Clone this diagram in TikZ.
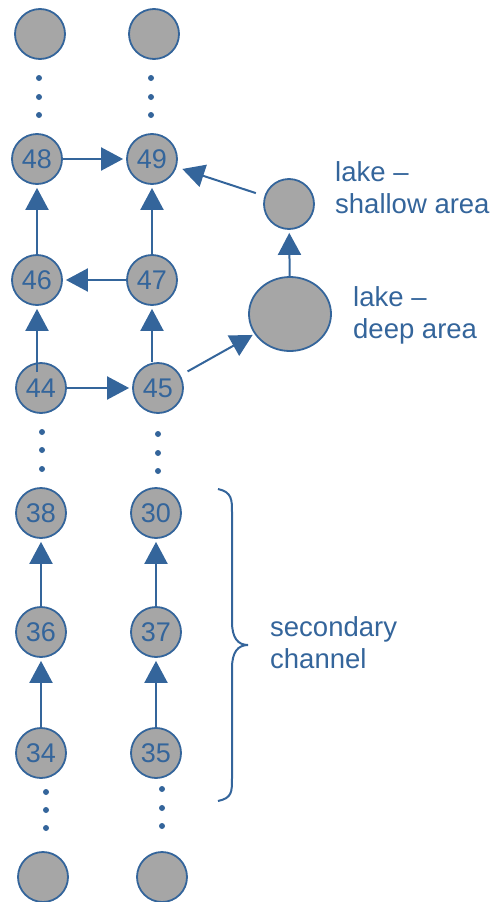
\documentclass[tikz,border=0pt]{standalone}
\usepackage{fontspec}
\setmainfont{Liberation Sans}
\usetikzlibrary{arrows.meta,shapes.geometric}
\definecolor{riverblue}{RGB}{52,101,155}
\definecolor{poolgray}{RGB}{166,166,166}
\tikzset{
  cell/.style={circle, draw=riverblue, fill=poolgray, line width=1.8pt,
    minimum size=50pt, inner sep=0pt, text=riverblue,
    font=\fontsize{27}{30}\selectfont},
  flow/.style={draw=riverblue, line width=2pt,
    -{Triangle[length=22pt,width=23pt]}, shorten >=3pt},
  note/.style={text=riverblue, font=\fontsize{27.5}{32}\selectfont,
    align=left, anchor=base west, inner sep=0pt},
}
\begin{document}
\begin{tikzpicture}[x=1pt,y=-1pt]
  \useasboundingbox (0,0) rectangle (492,902);

  % channel cells, left and right columns
  \node[cell] (tl)  at (40,34)  {};
  \node[cell] (tr)  at (154,34) {};
  \node[cell] (n48) at (37,159) {48};
  \node[cell] (n49) at (152,159) {49};
  \node[cell] (n46) at (37,280) {46};
  \node[cell] (n47) at (152,280) {47};
  \node[cell] (n44) at (41,388) {44};
  \node[cell] (n45) at (158,388) {45};
  \node[cell] (n38) at (41,513) {38};
  \node[cell] (n30) at (156,513) {30};
  \node[cell] (n36) at (41,632) {36};
  \node[cell] (n37) at (156,632) {37};
  \node[cell] (n34) at (41,753) {34};
  \node[cell] (n35) at (156,753) {35};
  \node[cell] (bl)  at (43,877) {};
  \node[cell] (br)  at (162,877) {};

  % lake cells
  \node[cell] (shallow) at (289,204) {};
  \node[cell, ellipse, minimum width=82pt, minimum height=74pt] (deep) at (290,314) {};

  % elided cells
  \foreach \x/\y in {39/78, 39/97, 39/115, 151/78, 151/97, 151/115,
                     42/432, 42/450, 42/469, 158/434, 158/453, 158/471,
                     46/792, 46/810, 46/828, 162/789, 162/808, 162/826}
    \fill[riverblue] (\x,\y) circle (3pt);

  % flow connections
  \draw[flow] (n48) -- (n49);
  \draw[flow] (n46) -- (n48);
  \draw[flow] (n47) -- (n49);
  \draw[flow] (n47) -- (n46);
  \draw[flow] (n46 |- n44.north) ++(0,10) -- (n46.south);
  \draw[flow] (n47 |- n45.north) -- (n47.south);
  \draw[flow] (n44) -- (n45);
  \draw[flow, shorten <=8pt, shorten >=2pt] (n45) -- (deep);
  \draw[flow] (deep) -- (shallow);
  \draw[flow, shorten <=9pt, shorten >=6pt] (shallow) -- (n49);
  \draw[flow] (n36) -- (n38);
  \draw[flow] (n34) -- (n36);
  \draw[flow] (n37) -- (n30);
  \draw[flow] (n35) -- (n37);

  % brace around the secondary channel
  \draw[riverblue, line width=2pt]
    (218,489) .. controls (232,492) and (232,500) .. (232,512)
    -- (232,622) .. controls (232,638) and (238,645) .. (248,645)
    .. controls (238,645) and (232,652) .. (232,668)
    -- (232,778) .. controls (232,792) and (232,798) .. (218,801);

  % labels (anchored at the baseline of the last line)
  \node[note] (lshallow) at (335,213) {lake --\\shallow area};
  \node[note] (ldeep) at (353,338) {lake --\\deep area};
  \node[note] (lsec) at (270,668) {secondary\\channel};
\end{tikzpicture}
\end{document}
